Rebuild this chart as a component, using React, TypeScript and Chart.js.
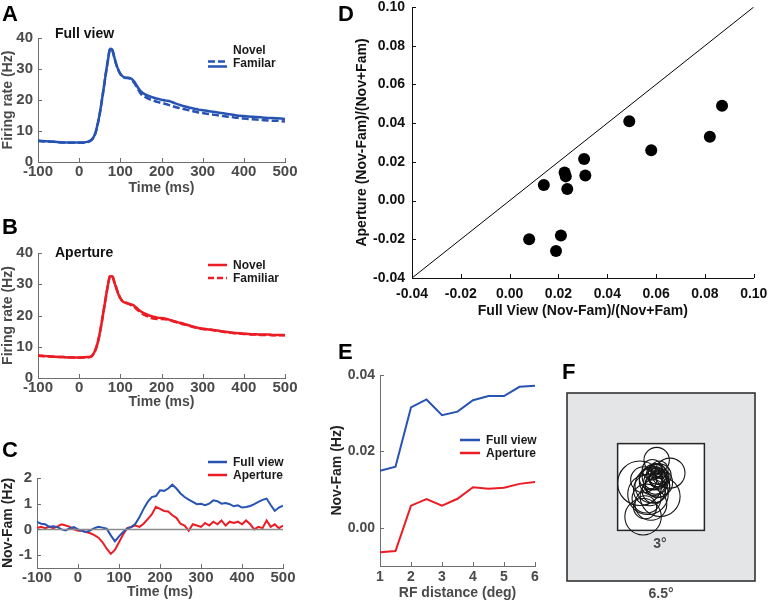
import React, { useEffect, useRef } from 'react';
import { Chart, registerables } from 'chart.js';

Chart.register(...registerables);

const FONT = '"Liberation Sans", Arial, Helvetica, sans-serif';
const BLUE = '#2753b3';
const RED = '#ec1c24';
const GRAY_TEXT = '#4a4a4a';
const AXIS_GRAY = '#6e6e6e';

// ---------- Panels A & B : firing rate vs time ----------
const timeAB = [-100, -80, -60, -40, -20, 0, 20, 30, 35, 40, 45, 50, 55, 60, 65, 70, 75, 80, 85, 90, 95, 100, 105, 110, 115, 120, 125, 130, 135, 140, 145, 150, 160, 170, 180, 190, 200, 210, 220, 230, 240, 250, 260, 270, 280, 290, 300, 310, 320, 330, 340, 350, 360, 370, 380, 390, 400, 410, 420, 430, 440, 450, 460, 470, 480, 490, 500];
const fullNovel = [6.9, 6.7, 6.5, 6.3, 6.3, 6.3, 6.5, 7.2, 8.0, 9.6, 12.3, 15.6, 19.8, 24.2, 28.8, 33.0, 36.5, 36.3, 34.0, 31.6, 29.8, 28.5, 27.7, 27.3, 27.2, 27.2, 27.0, 26.5, 25.7, 24.6, 23.6, 22.8, 21.8, 21.2, 20.8, 20.4, 20.1, 19.8, 19.6, 19.1, 18.6, 18.2, 17.8, 17.5, 17.2, 16.9, 16.7, 16.5, 16.3, 16.1, 15.9, 15.7, 15.5, 15.3, 15.1, 14.9, 14.8, 14.7, 14.6, 14.5, 14.4, 14.3, 14.2, 14.2, 14.1, 14.0, 13.9];
const fullFamiliar = [6.8, 6.6, 6.5, 6.3, 6.2, 6.2, 6.4, 7.1, 7.9, 9.5, 12.2, 15.5, 19.7, 24.1, 28.7, 32.9, 36.4, 36.2, 33.9, 31.5, 29.7, 28.4, 27.6, 27.2, 27.1, 27.0, 26.8, 26.2, 25.3, 24.1, 23.0, 22.0, 21.0, 20.3, 19.8, 19.4, 19.0, 18.7, 18.3, 17.9, 17.5, 17.2, 16.9, 16.6, 16.3, 16.0, 15.8, 15.6, 15.4, 15.2, 15.0, 14.8, 14.6, 14.5, 14.3, 14.2, 14.0, 13.9, 13.8, 13.7, 13.6, 13.5, 13.4, 13.3, 13.3, 13.2, 13.1];
const apertureNovel = [7.2, 7.0, 6.8, 6.7, 6.6, 6.6, 6.7, 7.0, 7.8, 9.2, 11.3, 14.3, 18.0, 22.0, 26.0, 29.8, 32.5, 32.6, 30.8, 28.8, 26.9, 25.5, 24.6, 24.2, 24.0, 23.8, 23.6, 23.4, 23.0, 22.4, 21.8, 21.3, 20.6, 20.0, 19.6, 19.3, 19.2, 19.0, 18.6, 18.2, 17.8, 17.5, 17.1, 16.7, 16.3, 16.0, 15.8, 15.6, 15.5, 15.3, 15.1, 14.9, 14.7, 14.5, 14.4, 14.3, 14.2, 14.1, 14.0, 14.0, 13.9, 13.9, 13.9, 13.8, 13.8, 13.8, 13.8];
const apertureFamiliar = [7.1, 6.9, 6.8, 6.7, 6.6, 6.5, 6.6, 6.9, 7.7, 9.1, 11.2, 14.2, 17.9, 21.9, 26.0, 29.9, 32.7, 32.8, 31.0, 29.0, 27.0, 25.6, 24.7, 24.3, 24.0, 23.7, 23.4, 23.1, 22.6, 22.0, 21.4, 20.9, 20.1, 19.5, 19.0, 18.9, 18.9, 18.8, 18.5, 18.1, 17.7, 17.3, 17.0, 16.6, 16.2, 15.9, 15.7, 15.5, 15.4, 15.2, 15.0, 14.8, 14.6, 14.5, 14.3, 14.2, 14.1, 14.0, 13.9, 13.9, 13.8, 13.8, 13.8, 13.7, 13.7, 13.7, 13.7];
const timeTicks = [-100, 0, 100, 200, 300, 400, 500];
const rateTicks = [0, 10, 20, 30, 40];

// ---------- Panel C : Nov - Fam ----------
const timeC = [-100, -90, -80, -70, -60, -50, -40, -30, -20, -10, 0, 10, 20, 30, 40, 50, 60, 70, 80, 90, 100, 110, 120, 130, 140, 150, 160, 170, 180, 190, 200, 210, 220, 230, 240, 250, 260, 270, 280, 290, 300, 310, 320, 330, 340, 350, 360, 370, 380, 390, 400, 410, 420, 430, 440, 450, 460, 470, 480, 490, 500];
const diffFull = [0.29, 0.22, 0.20, 0.10, 0.12, 0.09, 0.00, -0.04, 0.05, 0.09, 0.00, -0.06, -0.10, -0.04, 0.05, 0.10, 0.07, 0.03, -0.23, -0.46, -0.27, -0.10, 0.03, 0.09, 0.22, 0.48, 0.80, 1.07, 1.26, 1.30, 1.52, 1.50, 1.59, 1.74, 1.59, 1.40, 1.26, 1.16, 1.07, 0.98, 1.00, 0.94, 1.00, 1.13, 1.10, 1.00, 1.03, 0.98, 0.90, 0.94, 0.85, 0.87, 0.91, 0.98, 1.07, 1.15, 1.20, 0.95, 0.72, 0.85, 0.92];
const diffAperture = [0.05, 0.10, 0.05, 0.10, 0.05, 0.12, 0.20, 0.15, 0.10, 0.00, -0.05, -0.05, -0.10, -0.15, -0.22, -0.32, -0.50, -0.75, -0.95, -0.80, -0.50, -0.20, 0.05, 0.10, 0.15, 0.10, 0.22, 0.40, 0.58, 0.88, 0.80, 0.72, 0.70, 0.55, 0.45, 0.22, 0.15, -0.05, 0.20, 0.15, 0.10, 0.25, 0.15, 0.30, 0.20, 0.35, 0.15, 0.30, 0.25, 0.30, 0.20, 0.35, 0.20, 0.00, 0.10, 0.05, 0.35, 0.10, 0.20, 0.05, 0.15];
const zeroLineX = [-100, 500];
const zeroLineY = [0, 0];
const diffTicks = [-1, 0, 1, 2];

// ---------- Panel D : index scatter ----------
const fullViewIndex = [0.008, 0.021, 0.019, 0.014, 0.0225, 0.023, 0.0236, 0.0305, 0.031, 0.049, 0.058, 0.082, 0.087];
const apertureIndex = [-0.020, -0.018, -0.026, 0.008, 0.0145, 0.0125, 0.006, 0.0215, 0.013, 0.041, 0.026, 0.033, 0.049];
const unityLine = [-0.04, 0.10];
const indexTicks = [-0.04, -0.02, 0.0, 0.02, 0.04, 0.06, 0.08, 0.10];

// ---------- Panel E : vs RF distance ----------
const rfDistance = [1, 1.5, 2, 2.5, 3, 3.5, 4, 4.5, 5, 5.5, 6];
const distFull = [0.0149, 0.0160, 0.0315, 0.0336, 0.0295, 0.0304, 0.0334, 0.0345, 0.0345, 0.0369, 0.0372];
const distAperture = [-0.0064, -0.0061, 0.0058, 0.0075, 0.0058, 0.0076, 0.0106, 0.0102, 0.0105, 0.0115, 0.0120];
const distXTicks = [1, 2, 3, 4, 5, 6];
const distYTicks = [0.0, 0.02, 0.04];

// ---------- Panel F : receptive fields (deg) ----------
const rfX = [-0.15, -0.73, -0.62, 0.31, -0.03, -0.2, -0.15, -0.1, -0.25, -0.4, -0.5, -0.35, -0.2, -0.05, -0.45, -0.3, -0.55, -0.1, -0.3, -0.6, -0.15, -0.05, -0.1, -0.2, 0.0, -0.25, -0.35, -0.12];
const rfY = [0.93, 0.13, -1.03, 0.48, -0.33, 0.35, 0.45, 0.3, 0.2, -0.1, -0.4, -0.6, 0.55, 0.4, -0.25, 0.05, -0.7, 0.15, 0.6, 0.25, 0.5, 0.6, 0.25, 0.1, 0.35, -0.15, 0.3, 0.05];
const rfR = [0.44, 0.77, 0.63, 0.52, 0.69, 0.45, 0.35, 0.3, 0.5, 0.55, 0.5, 0.55, 0.25, 0.4, 0.7, 0.6, 0.4, 0.5, 0.35, 0.45, 0.2, 0.3, 0.3, 0.35, 0.28, 0.4, 0.4, 0.42];
const fieldHalf = 3.25;
const apertureHalf = 1.5;

// ---------- helpers ----------
const pts = (xs: number[], ys: number[]) => xs.map((x, i) => ({ x, y: ys[i] }));

function lineDs(label: string, xs: number[], ys: number[], color: string, width: number, dash: number[] = [], smooth = false) {
  return {
    label,
    data: pts(xs, ys),
    showLine: true,
    borderColor: color,
    backgroundColor: color,
    borderWidth: width,
    borderDash: dash,
    pointRadius: 0,
    pointHoverRadius: 0,
    fill: false,
    tension: 0,
    cubicInterpolationMode: smooth ? 'monotone' : 'default',
  };
}

function axis(o: any) {
  return {
    type: 'linear',
    min: o.min,
    max: o.max,
    afterBuildTicks: (s: any) => {
      s.ticks = o.ticks.map((v: number) => ({ value: v }));
    },
    afterFit: (s: any) => {
      if (o.horizontal) s.height = o.size;
      else s.width = o.size;
    },
    grid: { display: false, drawTicks: false, tickLength: 0 },
    border: { display: true, color: o.axisColor, width: 1 },
    ticks: {
      padding: o.tickPad,
      color: o.tickColor,
      font: { family: FONT, size: o.tickSize, weight: 'bold', lineHeight: 1.2 },
      autoSkip: false,
      maxRotation: 0,
      minRotation: 0,
      callback: (v: any) => o.fmt(v),
    },
    title: {
      display: true,
      text: o.title,
      color: o.titleColor,
      font: { family: FONT, size: o.titleSize, weight: 'bold', lineHeight: 1.2 },
      padding: o.horizontal ? { top: 0, bottom: o.titlePad } : { top: o.titlePad, bottom: 0 },
    },
  };
}

const inwardTicks = {
  id: 'inwardTicks',
  afterDatasetsDraw(chart: any, _args: any, opts: any) {
    if (!opts || !opts.len) return;
    const { ctx, chartArea: a, scales } = chart;
    ctx.save();
    ctx.strokeStyle = opts.color;
    ctx.lineWidth = 1;
    ctx.beginPath();
    for (const t of scales.x.ticks) {
      const p = Math.round(scales.x.getPixelForValue(t.value)) + 0.5;
      ctx.moveTo(p, a.bottom);
      ctx.lineTo(p, a.bottom - opts.len);
    }
    for (const t of scales.y.ticks) {
      const p = Math.round(scales.y.getPixelForValue(t.value)) + 0.5;
      ctx.moveTo(a.left, p);
      ctx.lineTo(a.left + opts.len, p);
    }
    ctx.stroke();
    ctx.restore();
  },
};

const fieldPlugin = {
  id: 'field',
  beforeDatasetsDraw(chart: any, _args: any, opts: any) {
    if (!opts || !opts.outer) return;
    const { ctx, scales } = chart;
    const x = scales.x;
    const y = scales.y;
    const box = (h: number, fillCol: string) => {
      const l = x.getPixelForValue(-h);
      const r = x.getPixelForValue(h);
      const t = y.getPixelForValue(h);
      const b = y.getPixelForValue(-h);
      ctx.fillStyle = fillCol;
      ctx.fillRect(l, t, r - l, b - t);
      ctx.strokeStyle = '#262626';
      ctx.lineWidth = 1.5;
      ctx.strokeRect(l, t, r - l, b - t);
    };
    ctx.save();
    box(opts.outer, '#e4e5e7');
    box(opts.inner, '#ffffff');
    ctx.restore();
  },
};

function baseOptions(padding: any, xAxis: any, yAxis: any, ticksOpt: any) {
  return {
    responsive: false,
    animation: false,
    devicePixelRatio: 1,
    events: [],
    layout: { padding },
    plugins: {
      legend: { display: false },
      tooltip: { enabled: false },
      inwardTicks: ticksOpt,
    },
    scales: { x: xAxis, y: yAxis },
  };
}

const fmtInt = (v: number) => String(v);
const fmt2 = (v: number) => (Math.abs(v) < 1e-9 ? '0.00' : v.toFixed(2));

function timeAxis(size: number, tickPad: number, titlePad: number) {
  return axis({
    horizontal: true, min: -100, max: 500, ticks: timeTicks, size, tickPad, titlePad,
    title: 'Time (ms)', axisColor: AXIS_GRAY, tickColor: GRAY_TEXT, titleColor: GRAY_TEXT,
    tickSize: 15, titleSize: 14, fmt: fmtInt,
  });
}

function makeConfigA() {
  return {
    type: 'scatter',
    data: {
      datasets: [
        lineDs('Familar', timeAB, fullFamiliar, BLUE, 2.5, [7, 3], true),
        lineDs('Novel', timeAB, fullNovel, BLUE, 2.5, [], true),
      ],
    },
    options: baseOptions(
      { left: 0, top: 38, right: 15, bottom: 0 },
      timeAxis(38, 1, 3.6),
      axis({
        min: 0, max: 40, ticks: rateTicks, size: 38, tickPad: 5, titlePad: 0,
        title: 'Firing rate (Hz)', axisColor: AXIS_GRAY, tickColor: GRAY_TEXT, titleColor: GRAY_TEXT,
        tickSize: 15, titleSize: 14, fmt: fmtInt,
      }),
      { len: 4, color: AXIS_GRAY }
    ),
    plugins: [inwardTicks],
  };
}

function makeConfigB() {
  return {
    type: 'scatter',
    data: {
      datasets: [
        lineDs('Familiar', timeAB, apertureFamiliar, RED, 2.5, [7, 3], true),
        lineDs('Novel', timeAB, apertureNovel, RED, 2.5, [], true),
      ],
    },
    options: baseOptions(
      { left: 0, top: 38, right: 15, bottom: 0 },
      timeAxis(37, 1, 4.6),
      axis({
        min: 0, max: 40, ticks: rateTicks, size: 38, tickPad: 5, titlePad: 0,
        title: 'Firing rate (Hz)', axisColor: AXIS_GRAY, tickColor: GRAY_TEXT, titleColor: GRAY_TEXT,
        tickSize: 15, titleSize: 14, fmt: fmtInt,
      }),
      { len: 4, color: AXIS_GRAY }
    ),
    plugins: [inwardTicks],
  };
}

function makeConfigC() {
  return {
    type: 'scatter',
    data: {
      datasets: [
        lineDs('zero', zeroLineX, zeroLineY, '#8c8c8c', 1.5),
        lineDs('Full view', timeC, diffFull, BLUE, 2),
        lineDs('Aperture', timeC, diffAperture, RED, 2),
      ],
    },
    options: baseOptions(
      { left: 0, top: 38, right: 17, bottom: 0 },
      timeAxis(35, 1, 2.6),
      axis({
        min: -1.5, max: 2, ticks: diffTicks, size: 37, tickPad: 5, titlePad: 0,
        title: 'Nov-Fam (Hz)', axisColor: AXIS_GRAY, tickColor: GRAY_TEXT, titleColor: '#222',
        tickSize: 15, titleSize: 14, fmt: fmtInt,
      }),
      { len: 4, color: AXIS_GRAY }
    ),
    plugins: [inwardTicks],
  };
}

function makeConfigD() {
  return {
    type: 'scatter',
    data: {
      datasets: [
        {
          label: 'Unity',
          data: pts(unityLine, unityLine),
          showLine: true,
          borderColor: '#000',
          borderWidth: 1,
          pointRadius: 0,
          pointHoverRadius: 0,
        },
        {
          label: 'Neurons',
          data: pts(fullViewIndex, apertureIndex),
          showLine: false,
          pointRadius: 6,
          pointHoverRadius: 6,
          pointBackgroundColor: '#000',
          pointBorderColor: '#000',
          pointBorderWidth: 0,
        },
      ],
    },
    options: baseOptions(
      { left: 0, top: 17, right: 18, bottom: 0 },
      axis({
        horizontal: true, min: -0.04, max: 0.10, ticks: indexTicks, size: 47, tickPad: 7.6, titlePad: 5.6,
        title: 'Full View (Nov-Fam)/(Nov+Fam)', axisColor: '#111', tickColor: '#111', titleColor: '#111',
        tickSize: 14, titleSize: 14, fmt: fmt2,
      }),
      axis({
        min: -0.04, max: 0.10, ticks: indexTicks, size: 62, tickPad: 7, titlePad: 3.6,
        title: 'Aperture (Nov-Fam)/(Nov+Fam)', axisColor: '#111', tickColor: '#111', titleColor: '#111',
        tickSize: 14, titleSize: 14, fmt: fmt2,
      }),
      { len: 4, color: '#111' }
    ),
    plugins: [inwardTicks],
  };
}

function makeConfigE() {
  return {
    type: 'scatter',
    data: {
      datasets: [
        lineDs('Full view', rfDistance, distFull, BLUE, 2),
        lineDs('Aperture', rfDistance, distAperture, RED, 2),
      ],
    },
    options: baseOptions(
      { left: 0, top: 40, right: 15, bottom: 0 },
      axis({
        horizontal: true, min: 1, max: 6, ticks: distXTicks, size: 37, tickPad: 2.6, titlePad: 1.6,
        title: 'RF distance (deg)', axisColor: AXIS_GRAY, tickColor: GRAY_TEXT, titleColor: GRAY_TEXT,
        tickSize: 14, titleSize: 14, fmt: fmtInt,
      }),
      axis({
        min: -0.01, max: 0.04, ticks: distYTicks, size: 60, tickPad: 5, titlePad: 8.6,
        title: 'Nov-Fam (Hz)', axisColor: AXIS_GRAY, tickColor: GRAY_TEXT, titleColor: '#222',
        tickSize: 14, titleSize: 14, fmt: fmt2,
      }),
      { len: 4, color: AXIS_GRAY }
    ),
    plugins: [inwardTicks],
  };
}

function makeConfigF() {
  const hidden = (min: number, max: number) => ({ type: 'linear', min, max, display: false });
  return {
    type: 'scatter',
    data: {
      datasets: [
        {
          label: 'Receptive fields',
          data: rfX.map((x, i) => ({ x, y: rfY[i], r: rfR[i] })),
          showLine: false,
          pointRadius: (c: any) => {
            const xs = c.chart.scales.x;
            const r = c.raw ? c.raw.r : 0;
            return Math.abs(xs.getPixelForValue(r) - xs.getPixelForValue(0));
          },
          pointHoverRadius: 0,
          pointBackgroundColor: 'rgba(0,0,0,0)',
          pointBorderColor: '#151515',
          pointBorderWidth: 1.1,
        },
      ],
    },
    options: {
      responsive: false,
      animation: false,
      devicePixelRatio: 1,
      events: [],
      layout: { padding: { left: 7, top: 13, right: 20, bottom: 22 } },
      plugins: {
        legend: { display: false },
        tooltip: { enabled: false },
        field: { outer: fieldHalf, inner: apertureHalf },
      },
      scales: { x: hidden(-fieldHalf, fieldHalf), y: hidden(-fieldHalf, fieldHalf) },
    },
    plugins: [fieldPlugin],
  };
}

function ChartCanvas({ left, top, width, height, make }: any) {
  const ref = useRef<HTMLCanvasElement>(null);
  useEffect(() => {
    const chart = new Chart(ref.current as HTMLCanvasElement, make() as any);
    return () => chart.destroy();
  }, []);
  return (
    <canvas
      ref={ref}
      width={width}
      height={height}
      style={{ position: 'absolute', left, top, width, height, display: 'block' }}
    />
  );
}

function Txt({ x, y, children, size = 12, color = '#1a1a1a', align = 'left' }: any) {
  const tx = align === 'left' ? '0' : align === 'center' ? '-50%' : '-100%';
  return (
    <div
      style={{
        position: 'absolute',
        left: x,
        top: y,
        transform: `translate(${tx}, -50%)`,
        fontFamily: FONT,
        fontSize: size,
        fontWeight: 'bold',
        color,
        whiteSpace: 'nowrap',
        lineHeight: 1,
      }}
    >
      {children}
    </div>
  );
}

export default function App() {
  return (
    <div
      style={{
        position: 'absolute',
        left: 0,
        top: 0,
        width: 775,
        height: 603,
        overflow: 'hidden',
        background: '#ffffff',
      }}
    >
      <ChartCanvas left={0} top={0} width={300} height={200} make={makeConfigA} />
      <ChartCanvas left={0} top={215} width={300} height={200} make={makeConfigB} />
      <ChartCanvas left={0} top={440} width={300} height={163} make={makeConfigC} />
      <ChartCanvas left={350} top={-10} width={425} height={335} make={makeConfigD} />
      <ChartCanvas left={320} top={335} width={230} height={268} make={makeConfigE} />
      <ChartCanvas left={560} top={380} width={215} height={223} make={makeConfigF} />

      <svg width={775} height={603} style={{ position: 'absolute', left: 0, top: 0, pointerEvents: 'none' }}>
        <line x1={208} x2={227} y1={61.5} y2={61.5} stroke={BLUE} strokeWidth={2.5} strokeDasharray="7 3" />
        <line x1={208} x2={227} y1={66.5} y2={66.5} stroke={BLUE} strokeWidth={2.5} />
        <line x1={208} x2={227} y1={265} y2={265} stroke={RED} strokeWidth={2.5} />
        <line x1={208} x2={227} y1={278} y2={278} stroke={RED} strokeWidth={2.5} strokeDasharray="6 3" />
        <line x1={208} x2={227} y1={462} y2={462} stroke={BLUE} strokeWidth={2.5} />
        <line x1={208} x2={227} y1={475} y2={475} stroke={RED} strokeWidth={2.5} />
        <line x1={460} x2={480} y1={440} y2={440} stroke={BLUE} strokeWidth={2.5} />
        <line x1={460} x2={480} y1={453} y2={453} stroke={RED} strokeWidth={2.5} />
      </svg>

      <Txt x={2} y={14} size={22} color="#000">A</Txt>
      <Txt x={2} y={227} size={22} color="#000">B</Txt>
      <Txt x={2} y={450} size={22} color="#000">C</Txt>
      <Txt x={338} y={14} size={22} color="#000">D</Txt>
      <Txt x={338} y={352} size={22} color="#000">E</Txt>
      <Txt x={562} y={372} size={22} color="#000">F</Txt>

      <Txt x={55} y={33} size={14} color="#111">Full view</Txt>
      <Txt x={55} y={252} size={14} color="#111">Aperture</Txt>

      <Txt x={233} y={50}>Novel</Txt>
      <Txt x={233} y={63}>Familar</Txt>
      <Txt x={233} y={265}>Novel</Txt>
      <Txt x={233} y={278}>Familiar</Txt>
      <Txt x={233} y={462}>Full view</Txt>
      <Txt x={233} y={475}>Aperture</Txt>
      <Txt x={486} y={440}>Full view</Txt>
      <Txt x={486} y={453}>Aperture</Txt>

      <Txt x={660} y={543} size={14} color={GRAY_TEXT} align="center">3°</Txt>
      <Txt x={661} y={593} size={14} color={GRAY_TEXT} align="center">6.5°</Txt>
    </div>
  );
}
